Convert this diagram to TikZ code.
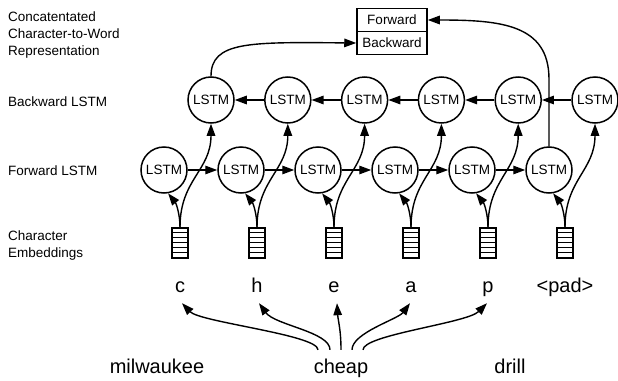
\documentclass[tikz,border=0pt]{standalone}
\usepackage{fontspec}
\setmainfont{Liberation Sans}
\usetikzlibrary{arrows.meta}
\begin{document}
\begin{tikzpicture}[x=1pt,y=-1pt,
  small/.style={font=\fontsize{13.5}{17}\selectfont},
  lstm/.style={circle, draw, line width=1.5pt, minimum size=46pt, inner sep=0pt, small},
  embbox/.style={draw, line width=1.5pt, minimum width=16pt, minimum height=30pt, inner sep=0pt},
  rowlabel/.style={anchor=west, align=left, inner sep=0pt, small},
  part/.style={draw, line width=1.5pt, minimum width=70pt, minimum height=23pt, inner sep=0pt, small},
  symbol/.style={anchor=base, font=\fontsize{20}{24}\selectfont, text depth=5pt, inner xsep=0pt, inner ysep=6pt},
  word/.style={anchor=base, font=\fontsize{20}{24}\selectfont, text height=14pt, text depth=4pt, inner xsep=0pt, inner ysep=9pt},
  conn/.style={line width=1.4pt, -{Triangle[length=12pt,width=8.5pt]}}]
\useasboundingbox (0,0) rectangle (618,380);

% row labels
\node[rowlabel] (lconcat) at (8,35) {Concatentated\\Character-to-Word\\Representation};
\node[rowlabel] (lback) at (8,102) {Backward LSTM};
\node[rowlabel] (lfwd) at (8,171) {Forward LSTM};
\node[rowlabel] (lemb) at (8,246) {Character\\Embeddings};

% concatenated representation
\node[part] (fwd) at (392,20) {Forward};
\node[part] (bwd) at (392,43) {Backward};

% LSTM cells, embeddings and characters
\foreach \i/\ch in {0/c,1/h,2/e,3/a,4/p,5/{<pad>}} {
  \node[lstm] (f\i) at ({164+77*\i},170) {LSTM};
  \node[lstm] (b\i) at ({211+76.8*\i},100) {LSTM};
  \node[embbox] (e\i) at ({180+77*\i},243) {};
  \foreach \k in {1,...,5}
    \draw[line width=1.2pt] ([yshift=-\k*5pt]e\i.north west) -- ([yshift=-\k*5pt]e\i.north east);
  \node[symbol] (l\i) at ({180+77*\i},292) {\ch};
}

% words
\node[word] (milwaukee) at (157,373) {milwaukee};
\node[word] (cheap) at (341,373) {cheap};
\node[word] (drill) at (510,373) {drill};

% forward and backward chains
\foreach \i/\j in {0/1,1/2,2/3,3/4,4/5} {
  \draw[conn] (f\i) -- (f\j);
  \draw[conn] (b\j) -- (b\i);
}

% embeddings feed both directions
\foreach \i in {0,...,5} {
  \draw[conn] (e\i.north) .. controls +(0,-13) and +(8,10) .. (f\i.-80);
  \draw[conn] (e\i.north) .. controls +(0,-48) and +(0,47) .. (b\i.south);
}

% final states to the concatenated representation
\draw[conn] (f5.north) -- ++(0,-67) .. controls +(0,-55) and +(73,0) .. (fwd.east);
\draw[conn] (b0.north) .. controls +(0,-35) and +(-107,-1) .. (bwd.west);

% word split into characters
\draw[conn] ([xshift=-23pt]cheap.north) .. controls +(0,-15) and +(18,19) .. ([xshift=2pt]l0.south);
\draw[conn] ([xshift=-11pt]cheap.north) .. controls +(0,-18) and +(16,22) .. ([xshift=2pt]l1.south);
\draw[conn] (cheap.north) .. controls +(0,-20) and +(1,17) .. ([xshift=3pt]l2.south);
\draw[conn] ([xshift=11pt]cheap.north) .. controls +(0,-17) and +(-12,16) .. ([xshift=-1pt]l3.south);
\draw[conn] ([xshift=22pt]cheap.north) .. controls +(0,-15) and +(-20,20) .. ([xshift=-1pt]l4.south);
\end{tikzpicture}
\end{document}
